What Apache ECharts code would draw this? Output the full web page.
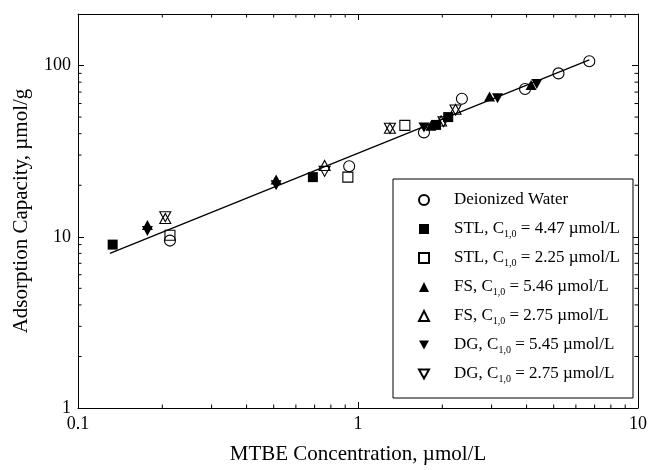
<!DOCTYPE html>
<html>
<head>
<meta charset="utf-8">
<script src="https://cdn.jsdelivr.net/npm/echarts@6/dist/echarts.min.js"></script>
<style>
  html, body { margin: 0; padding: 0; background: #fff; }
  #chart { width: 650px; height: 470px; }
</style>
</head>
<body>
<div id="chart"></div>
<script>
// data (x: umol/L, y: umol/g)
var dwX = [0.213, 0.93, 1.72, 2.35, 3.95, 5.2, 6.7];
var dwY = [9.5, 25.8, 40.7, 64, 73, 90, 106];
var stlHiX = [0.133, 0.69, 1.9, 2.1];
var stlHiY = [9.0, 22.3, 45, 50];
var stlLoX = [0.213, 0.92, 1.47];
var stlLoY = [10.2, 22.3, 44.7];
var fsHiX = [0.177, 0.51, 1.82, 2.95, 4.15];
var fsHiY = [11.7, 21.6, 44.5, 66, 77];
var fsLoX = [0.205, 0.76, 1.3, 1.98, 2.23];
var fsLoY = [12.8, 26.1, 43, 47.5, 55.5];
var dgHiX = [0.177, 0.51, 1.72, 3.15, 4.35];
var dgHiY = [10.8, 20.0, 43.5, 64.5, 78];
var dgLoX = [0.205, 0.76, 1.3, 2.02, 2.23];
var dgLoY = [13.1, 24.1, 43, 47, 55];
var fitX = [0.13, 6.7];
var fitY = [8.0, 108];

var names = ['Deionized Water', 'STL, C{sub|1,0} = 4.47 µmol/L', 'STL, C{sub|1,0} = 2.25 µmol/L',
  'FS, C{sub|1,0} = 5.46 µmol/L', 'FS, C{sub|1,0} = 2.75 µmol/L',
  'DG, C{sub|1,0} = 5.45 µmol/L', 'DG, C{sub|1,0} = 2.75 µmol/L'];

var xMin = 0.1, xMax = 10, yMin = 1, yMax = 200;
var xMinor = [0.2, 0.3, 0.4, 0.5, 0.6, 0.7, 0.8, 0.9, 2, 3, 4, 5, 6, 7, 8, 9];
var yMinor = [2, 3, 4, 5, 6, 7, 8, 9, 20, 30, 40, 50, 60, 70, 80, 90];

function pairs(xs, ys) {
  return xs.map(function (x, i) { return [x, ys[i]]; });
}

var downTri = 'path://M0,0L2,0L1,1.8Z';
var font = 'Liberation Serif';

function scatter(name, xs, ys, symbol, filled, size) {
  return {
    name: name,
    type: 'scatter',
    data: pairs(xs, ys),
    symbol: symbol,
    symbolSize: size,
    itemStyle: filled ? { color: '#000', borderColor: '#000', borderWidth: 0, opacity: 1 }
                      : { color: 'rgba(255,255,255,0)', borderColor: '#000', borderWidth: 1.1, opacity: 1 },
    z: 3
  };
}

function minorTicks(list, isX) {
  return {
    type: 'custom',
    silent: true,
    clip: false,
    data: list.map(function (v) { return isX ? [v, yMin] : [xMin, v]; }),
    renderItem: function (params, api) {
      var v = api.value(isX ? 0 : 1);
      var a, b, len = 3.5;
      if (isX) {
        a = api.coord([v, yMin]); b = api.coord([v, yMax]);
        return { type: 'group', children: [
          { type: 'line', shape: { x1: a[0], y1: a[1], x2: a[0], y2: a[1] - len }, style: { stroke: '#000', lineWidth: 1 } },
          { type: 'line', shape: { x1: b[0], y1: b[1], x2: b[0], y2: b[1] + len }, style: { stroke: '#000', lineWidth: 1 } }
        ] };
      }
      a = api.coord([xMin, v]); b = api.coord([xMax, v]);
      return { type: 'group', children: [
        { type: 'line', shape: { x1: a[0], y1: a[1], x2: a[0] + len, y2: a[1] }, style: { stroke: '#000', lineWidth: 1 } },
        { type: 'line', shape: { x1: b[0], y1: b[1], x2: b[0] - len, y2: b[1] }, style: { stroke: '#000', lineWidth: 1 } }
      ] };
    }
  };
}

function decadeLabel(v) {
  var l = Math.log10(v);
  if (Math.abs(l - Math.round(l)) > 1e-6) return '';
  return String(+v.toPrecision(3));
}

var axisLine = { show: true, lineStyle: { color: '#000', width: 1 } };

var myChart = echarts.init(document.getElementById('chart'));
var option = {
  backgroundColor: '#fff',
  animation: false,
  grid: { left: 78, right: 7, top: 14, bottom: 61 },
  legend: {
    data: names,
    orient: 'vertical',
    left: 393,
    top: 179,
    padding: [11, 13, 14, 25],
    itemWidth: 10,
    itemHeight: 10,
    itemGap: 9,
    borderColor: '#000',
    borderWidth: 1,
    backgroundColor: '#fff',
    selectedMode: false,
    formatter: function (name) { return '{gap|}' + name; },
    textStyle: {
      fontFamily: font, fontSize: 17, color: '#000', lineHeight: 20,
      rich: {
        gap: { width: 20, lineHeight: 20 },
        sub: { fontFamily: font, fontSize: 10, color: '#000', lineHeight: 20, verticalAlign: 'bottom' }
      }
    }
  },
  xAxis: [{
    type: 'log', logBase: 10, min: xMin, max: xMax,
    name: 'MTBE Concentration, µmol/L',
    nameLocation: 'middle', nameGap: 36,
    nameTextStyle: { fontFamily: font, fontSize: 21, color: '#000' },
    axisLine: axisLine,
    axisTick: { inside: true, length: 6, lineStyle: { color: '#000' } },
    axisLabel: { fontFamily: font, fontSize: 18, color: '#000', margin: 7, formatter: decadeLabel },
    splitLine: { show: false }
  }, {
    type: 'log', logBase: 10, min: xMin, max: xMax, position: 'top',
    axisLine: axisLine,
    axisTick: { inside: true, length: 6, lineStyle: { color: '#000' } },
    axisLabel: { show: false },
    splitLine: { show: false }
  }],
  yAxis: [{
    type: 'log', logBase: 10, min: yMin, max: yMax,
    name: 'Adsorption Capacity, µmol/g',
    nameLocation: 'middle', nameGap: 46,
    nameTextStyle: { fontFamily: font, fontSize: 21, color: '#000' },
    axisLine: axisLine,
    axisTick: { inside: true, length: 6, lineStyle: { color: '#000' } },
    axisLabel: { fontFamily: font, fontSize: 18, color: '#000', margin: 7, formatter: decadeLabel, showMaxLabel: false },
    splitLine: { show: false }
  }, {
    type: 'log', logBase: 10, min: yMin, max: yMax, position: 'right',
    axisLine: axisLine,
    axisTick: { inside: true, length: 6, lineStyle: { color: '#000' } },
    axisLabel: { show: false },
    splitLine: { show: false }
  }],
  series: [
    {
      name: 'fit', type: 'line', data: pairs(fitX, fitY),
      showSymbol: false, symbol: 'none',
      lineStyle: { color: '#000', width: 1.3 }, z: 2, silent: true
    },
    scatter(names[0], dwX, dwY, 'circle', false, 11),
    scatter(names[1], stlHiX, stlHiY, 'rect', true, 10),
    scatter(names[2], stlLoX, stlLoY, 'rect', false, 10),
    scatter(names[3], fsHiX, fsHiY, 'triangle', true, [11, 10]),
    scatter(names[4], fsLoX, fsLoY, 'triangle', false, [11, 10]),
    scatter(names[5], dgHiX, dgHiY, downTri, true, [11, 10]),
    scatter(names[6], dgLoX, dgLoY, downTri, false, [11, 10]),
    minorTicks(xMinor, true),
    minorTicks(yMinor, false)
  ]
};
myChart.setOption(option);
</script>
</body>
</html>
